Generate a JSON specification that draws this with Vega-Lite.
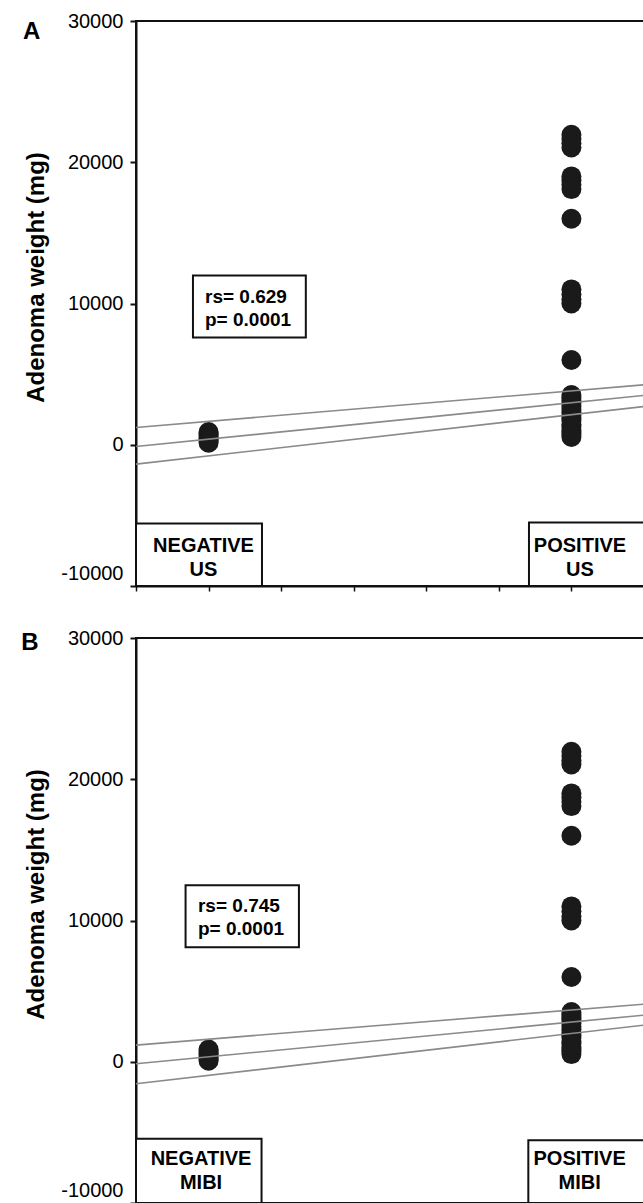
{
  "$schema": "https://vega.github.io/schema/vega-lite/v6.json",
  "background": "white",
  "padding": {"left": 20, "top": 10, "right": 0, "bottom": 0},
  "bounds": "flush",
  "spacing": 52,
  "config": {
    "font": "Liberation Sans",
    "view": {"stroke": "#111111", "strokeWidth": 2},
    "axisY": {
      "grid": false,
      "labelFontSize": 20,
      "labelColor": "black",
      "labelPadding": 7,
      "tickColor": "#111111",
      "tickSize": 6,
      "tickWidth": 2,
      "domainColor": "#111111",
      "domainWidth": 2,
      "titleFontSize": 24,
      "titleFontWeight": "bold",
      "titleColor": "black",
      "titleX": -88,
      "titleY": 256
    },
    "axisX": {
      "labels": false,
      "grid": false,
      "tickColor": "#111111",
      "tickSize": 5,
      "tickWidth": 1.5,
      "domainColor": "#111111",
      "domainWidth": 2,
      "title": null
    }
  },
  "datasets": {
    "dots": [
      {"panel": "A", "group": "NEGATIVE", "code": 1, "weight": 900},
      {"panel": "A", "group": "NEGATIVE", "code": 1, "weight": 780},
      {"panel": "A", "group": "NEGATIVE", "code": 1, "weight": 650},
      {"panel": "A", "group": "NEGATIVE", "code": 1, "weight": 520},
      {"panel": "A", "group": "NEGATIVE", "code": 1, "weight": 400},
      {"panel": "A", "group": "NEGATIVE", "code": 1, "weight": 280},
      {"panel": "A", "group": "NEGATIVE", "code": 1, "weight": 140},
      {"panel": "A", "group": "POSITIVE", "code": 6, "weight": 21950},
      {"panel": "A", "group": "POSITIVE", "code": 6, "weight": 21650},
      {"panel": "A", "group": "POSITIVE", "code": 6, "weight": 21350},
      {"panel": "A", "group": "POSITIVE", "code": 6, "weight": 21050},
      {"panel": "A", "group": "POSITIVE", "code": 6, "weight": 19000},
      {"panel": "A", "group": "POSITIVE", "code": 6, "weight": 18700},
      {"panel": "A", "group": "POSITIVE", "code": 6, "weight": 18400},
      {"panel": "A", "group": "POSITIVE", "code": 6, "weight": 18100},
      {"panel": "A", "group": "POSITIVE", "code": 6, "weight": 16000},
      {"panel": "A", "group": "POSITIVE", "code": 6, "weight": 11000},
      {"panel": "A", "group": "POSITIVE", "code": 6, "weight": 10650},
      {"panel": "A", "group": "POSITIVE", "code": 6, "weight": 10300},
      {"panel": "A", "group": "POSITIVE", "code": 6, "weight": 10000},
      {"panel": "A", "group": "POSITIVE", "code": 6, "weight": 6000},
      {"panel": "A", "group": "POSITIVE", "code": 6, "weight": 3520},
      {"panel": "A", "group": "POSITIVE", "code": 6, "weight": 3350},
      {"panel": "A", "group": "POSITIVE", "code": 6, "weight": 3120},
      {"panel": "A", "group": "POSITIVE", "code": 6, "weight": 2950},
      {"panel": "A", "group": "POSITIVE", "code": 6, "weight": 2700},
      {"panel": "A", "group": "POSITIVE", "code": 6, "weight": 2480},
      {"panel": "A", "group": "POSITIVE", "code": 6, "weight": 2300},
      {"panel": "A", "group": "POSITIVE", "code": 6, "weight": 2050},
      {"panel": "A", "group": "POSITIVE", "code": 6, "weight": 1880},
      {"panel": "A", "group": "POSITIVE", "code": 6, "weight": 1700},
      {"panel": "A", "group": "POSITIVE", "code": 6, "weight": 1450},
      {"panel": "A", "group": "POSITIVE", "code": 6, "weight": 1300},
      {"panel": "A", "group": "POSITIVE", "code": 6, "weight": 1050},
      {"panel": "A", "group": "POSITIVE", "code": 6, "weight": 900},
      {"panel": "A", "group": "POSITIVE", "code": 6, "weight": 720},
      {"panel": "A", "group": "POSITIVE", "code": 6, "weight": 550},
      {"panel": "B", "group": "NEGATIVE", "code": 1, "weight": 860},
      {"panel": "B", "group": "NEGATIVE", "code": 1, "weight": 720},
      {"panel": "B", "group": "NEGATIVE", "code": 1, "weight": 600},
      {"panel": "B", "group": "NEGATIVE", "code": 1, "weight": 480},
      {"panel": "B", "group": "NEGATIVE", "code": 1, "weight": 330},
      {"panel": "B", "group": "NEGATIVE", "code": 1, "weight": 200},
      {"panel": "B", "group": "NEGATIVE", "code": 1, "weight": 70},
      {"panel": "B", "group": "POSITIVE", "code": 6, "weight": 21950},
      {"panel": "B", "group": "POSITIVE", "code": 6, "weight": 21650},
      {"panel": "B", "group": "POSITIVE", "code": 6, "weight": 21350},
      {"panel": "B", "group": "POSITIVE", "code": 6, "weight": 21050},
      {"panel": "B", "group": "POSITIVE", "code": 6, "weight": 19000},
      {"panel": "B", "group": "POSITIVE", "code": 6, "weight": 18700},
      {"panel": "B", "group": "POSITIVE", "code": 6, "weight": 18400},
      {"panel": "B", "group": "POSITIVE", "code": 6, "weight": 18100},
      {"panel": "B", "group": "POSITIVE", "code": 6, "weight": 16000},
      {"panel": "B", "group": "POSITIVE", "code": 6, "weight": 11000},
      {"panel": "B", "group": "POSITIVE", "code": 6, "weight": 10650},
      {"panel": "B", "group": "POSITIVE", "code": 6, "weight": 10300},
      {"panel": "B", "group": "POSITIVE", "code": 6, "weight": 10000},
      {"panel": "B", "group": "POSITIVE", "code": 6, "weight": 6000},
      {"panel": "B", "group": "POSITIVE", "code": 6, "weight": 3520},
      {"panel": "B", "group": "POSITIVE", "code": 6, "weight": 3350},
      {"panel": "B", "group": "POSITIVE", "code": 6, "weight": 3120},
      {"panel": "B", "group": "POSITIVE", "code": 6, "weight": 2950},
      {"panel": "B", "group": "POSITIVE", "code": 6, "weight": 2700},
      {"panel": "B", "group": "POSITIVE", "code": 6, "weight": 2480},
      {"panel": "B", "group": "POSITIVE", "code": 6, "weight": 2300},
      {"panel": "B", "group": "POSITIVE", "code": 6, "weight": 2050},
      {"panel": "B", "group": "POSITIVE", "code": 6, "weight": 1880},
      {"panel": "B", "group": "POSITIVE", "code": 6, "weight": 1700},
      {"panel": "B", "group": "POSITIVE", "code": 6, "weight": 1450},
      {"panel": "B", "group": "POSITIVE", "code": 6, "weight": 1300},
      {"panel": "B", "group": "POSITIVE", "code": 6, "weight": 1050},
      {"panel": "B", "group": "POSITIVE", "code": 6, "weight": 900},
      {"panel": "B", "group": "POSITIVE", "code": 6, "weight": 720},
      {"panel": "B", "group": "POSITIVE", "code": 6, "weight": 540}
    ],
    "fits": [
      {"panel": "A", "line": "upper", "x": 0, "y": 1225},
      {"panel": "A", "line": "upper", "x": 7, "y": 4245},
      {"panel": "A", "line": "fit", "x": 0, "y": -120},
      {"panel": "A", "line": "fit", "x": 7, "y": 3490},
      {"panel": "A", "line": "lower", "x": 0, "y": -1370},
      {"panel": "A", "line": "lower", "x": 7, "y": 2710},
      {"panel": "B", "line": "upper", "x": 0, "y": 1180},
      {"panel": "B", "line": "upper", "x": 7, "y": 4080},
      {"panel": "B", "line": "fit", "x": 0, "y": -140},
      {"panel": "B", "line": "fit", "x": 7, "y": 3300},
      {"panel": "B", "line": "lower", "x": 0, "y": -1560},
      {"panel": "B", "line": "lower", "x": 7, "y": 2595}
    ],
    "notes": [
      {"panel": "A", "tag": "A", "stat": "rs= 0.629\np= 0.0001", "neg": "NEGATIVE\nUS", "pos": "POSITIVE\nUS"},
      {"panel": "B", "tag": "B", "stat": "rs= 0.745\np= 0.0001", "neg": "NEGATIVE\nMIBI", "pos": "POSITIVE\nMIBI"}
    ]
  },
  "vconcat": [
    {
      "width": 508,
      "height": 565,
      "layer": [
        {
          "data": {"name": "dots"},
          "transform": [{"filter": "datum.panel === 'A'"}],
          "mark": {"type": "circle", "size": 400, "color": "#1a1a1a", "opacity": 1},
          "encoding": {
            "x": {"field": "code", "type": "quantitative", "scale": {"domain": [0, 7], "nice": false, "zero": false}, "axis": {"values": [0, 1, 2, 3, 4, 5, 6, 7]}},
            "y": {"field": "weight", "type": "quantitative", "scale": {"domain": [-10000, 30000], "nice": false, "zero": false}, "axis": {"title": "Adenoma weight (mg)", "values": [-10000, 0, 10000, 20000, 30000], "labelExpr": "'' + datum.value", "labelOffset": {"condition": {"test": "datum.value === -10000", "value": -13}, "value": 0}}}
          }
        },
        {
          "data": {"name": "fits"},
          "transform": [{"filter": "datum.panel === 'A'"}],
          "mark": {"type": "line", "color": "#8a8a8a", "strokeWidth": 1.6},
          "encoding": {
            "x": {"field": "x", "type": "quantitative"},
            "y": {"field": "y", "type": "quantitative"},
            "detail": {"field": "line"}
          }
        },
        {
          "data": {"name": "notes"},
          "transform": [{"filter": "datum.panel === 'A'"}],
          "layer": [
            {"mark": {"type": "text", "align": "left", "baseline": "alphabetic", "fontSize": 24, "fontWeight": "bold", "color": "black"},
             "encoding": {"x": {"datum": -1.557, "type": "quantitative"}, "y": {"datum": 28730, "type": "quantitative"}, "text": {"field": "tag"}}},
            {"mark": {"type": "rect", "fill": "white", "stroke": "#111111", "strokeWidth": 2},
             "encoding": {"x": {"datum": 0.785, "type": "quantitative"}, "x2": {"datum": 2.34}, "y": {"datum": 11980, "type": "quantitative"}, "y2": {"datum": 7590}}},
            {"mark": {"type": "text", "align": "left", "baseline": "middle", "fontSize": 19, "fontWeight": "bold", "color": "black", "lineBreak": "\n", "lineHeight": 23},
             "encoding": {"x": {"datum": 0.951, "type": "quantitative"}, "y": {"datum": 10495, "type": "quantitative"}, "text": {"field": "stat"}}},
            {"mark": {"type": "rect", "fill": "white", "stroke": "#111111", "strokeWidth": 2},
             "encoding": {"x": {"datum": 0, "type": "quantitative"}, "x2": {"datum": 1.736}, "y": {"datum": -5570, "type": "quantitative"}, "y2": {"datum": -10000}}},
            {"mark": {"type": "text", "align": "center", "baseline": "middle", "fontSize": 20, "fontWeight": "bold", "color": "black", "lineBreak": "\n", "lineHeight": 24},
             "encoding": {"x": {"datum": 0.93, "type": "quantitative"}, "y": {"datum": -7200, "type": "quantitative"}, "text": {"field": "neg"}}},
            {"mark": {"type": "rect", "fill": "white", "stroke": "#111111", "strokeWidth": 2},
             "encoding": {"x": {"datum": 5.415, "type": "quantitative"}, "x2": {"datum": 7}, "y": {"datum": -5500, "type": "quantitative"}, "y2": {"datum": -10000}}},
            {"mark": {"type": "text", "align": "center", "baseline": "middle", "fontSize": 20, "fontWeight": "bold", "color": "black", "lineBreak": "\n", "lineHeight": 24},
             "encoding": {"x": {"datum": 6.118, "type": "quantitative"}, "y": {"datum": -7200, "type": "quantitative"}, "text": {"field": "pos"}}}
          ]
        }
      ]
    },
    {
      "width": 508,
      "height": 565,
      "layer": [
        {
          "data": {"name": "dots"},
          "transform": [{"filter": "datum.panel === 'B'"}],
          "mark": {"type": "circle", "size": 400, "color": "#1a1a1a", "opacity": 1},
          "encoding": {
            "x": {"field": "code", "type": "quantitative", "scale": {"domain": [0, 7], "nice": false, "zero": false}, "axis": {"values": [0, 1, 2, 3, 4, 5, 6, 7]}},
            "y": {"field": "weight", "type": "quantitative", "scale": {"domain": [-10000, 30000], "nice": false, "zero": false}, "axis": {"title": "Adenoma weight (mg)", "values": [-10000, 0, 10000, 20000, 30000], "labelExpr": "'' + datum.value", "labelOffset": {"condition": {"test": "datum.value === -10000", "value": -13}, "value": 0}}}
          }
        },
        {
          "data": {"name": "fits"},
          "transform": [{"filter": "datum.panel === 'B'"}],
          "mark": {"type": "line", "color": "#8a8a8a", "strokeWidth": 1.6},
          "encoding": {
            "x": {"field": "x", "type": "quantitative"},
            "y": {"field": "y", "type": "quantitative"},
            "detail": {"field": "line"}
          }
        },
        {
          "data": {"name": "notes"},
          "transform": [{"filter": "datum.panel === 'B'"}],
          "layer": [
            {"mark": {"type": "text", "align": "left", "baseline": "alphabetic", "fontSize": 24, "fontWeight": "bold", "color": "black"},
             "encoding": {"x": {"datum": -1.582, "type": "quantitative"}, "y": {"datum": 29140, "type": "quantitative"}, "text": {"field": "tag"}}},
            {"mark": {"type": "rect", "fill": "white", "stroke": "#111111", "strokeWidth": 2},
             "encoding": {"x": {"datum": 0.683, "type": "quantitative"}, "x2": {"datum": 2.245}, "y": {"datum": 12500, "type": "quantitative"}, "y2": {"datum": 8100}}},
            {"mark": {"type": "text", "align": "left", "baseline": "middle", "fontSize": 19, "fontWeight": "bold", "color": "black", "lineBreak": "\n", "lineHeight": 23},
             "encoding": {"x": {"datum": 0.854, "type": "quantitative"}, "y": {"datum": 11020, "type": "quantitative"}, "text": {"field": "stat"}}},
            {"mark": {"type": "rect", "fill": "white", "stroke": "#111111", "strokeWidth": 2},
             "encoding": {"x": {"datum": 0, "type": "quantitative"}, "x2": {"datum": 1.73}, "y": {"datum": -5450, "type": "quantitative"}, "y2": {"datum": -10000}}},
            {"mark": {"type": "text", "align": "center", "baseline": "middle", "fontSize": 20, "fontWeight": "bold", "color": "black", "lineBreak": "\n", "lineHeight": 24},
             "encoding": {"x": {"datum": 0.896, "type": "quantitative"}, "y": {"datum": -6900, "type": "quantitative"}, "text": {"field": "neg"}}},
            {"mark": {"type": "rect", "fill": "white", "stroke": "#111111", "strokeWidth": 2},
             "encoding": {"x": {"datum": 5.406, "type": "quantitative"}, "x2": {"datum": 7}, "y": {"datum": -5560, "type": "quantitative"}, "y2": {"datum": -10000}}},
            {"mark": {"type": "text", "align": "center", "baseline": "middle", "fontSize": 20, "fontWeight": "bold", "color": "black", "lineBreak": "\n", "lineHeight": 24},
             "encoding": {"x": {"datum": 6.113, "type": "quantitative"}, "y": {"datum": -6900, "type": "quantitative"}, "text": {"field": "pos"}}}
          ]
        }
      ]
    }
  ]
}
